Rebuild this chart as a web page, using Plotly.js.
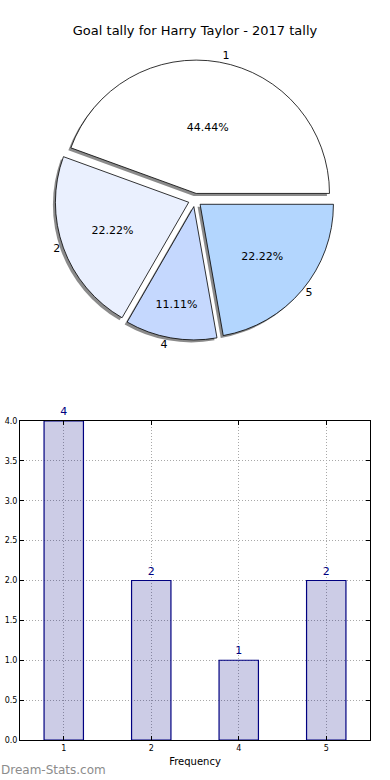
<!DOCTYPE html>
<html>
<head>
<meta charset="utf-8">
<script src="https://cdn.plot.ly/plotly-3.0.1.min.js"></script>
<style>html,body{margin:0;padding:0;background:#fff}#chart{width:390px;height:780px}</style>
</head>
<body>
<div id="chart"></div>
<script>
const categories = ["1", "2", "4", "5"];
const counts = [4, 2, 1, 2];
const sliceColors = ["#ffffff", "#eaf0fe", "#c5d8fe", "#b3d6fe"];
const yTicks = [0, 0.5, 1, 1.5, 2, 2.5, 3, 3.5, 4];
const titleText = "Goal tally for Harry Taylor - 2017 tally";

const W = 390, H = 780;
const mL = 20, mR = 20, mT = 0, mB = 40;
const plotW = W - mL - mR, plotH = H - mT - mB;
const pxX = p => (p - mL) / plotW;
const pxY = p => (plotH + mT - p) / plotH;

const pieTop = 60, pieBottom = 340;
const pieDomain = {x: [pxX(40), pxX(350)], y: [pxY(pieBottom), pxY(pieTop)]};
const sh = 2.5;
const shadowDomain = {x: [pxX(40 - sh), pxX(350 - sh)], y: [pxY(pieBottom + sh), pxY(pieTop + sh)]};
const pulls = [0.05, 0.05, 0.05, 0.05];
const font = "DejaVu Sans, sans-serif";
const startRotation = -70;

const shadow = {
  type: "pie", labels: categories, values: counts, sort: false,
  direction: "counterclockwise", rotation: startRotation, pull: pulls,
  domain: shadowDomain, textinfo: "none", hoverinfo: "skip",
  marker: {colors: categories.map(() => "rgba(90,90,90,0.7)"), line: {width: 0}},
  showlegend: false
};
const pie = {
  type: "pie", labels: categories, values: counts, sort: false,
  direction: "counterclockwise", rotation: startRotation, pull: pulls,
  domain: pieDomain, textinfo: "percent", texttemplate: "%{percent:.2%}",
  textposition: "inside", insidetextorientation: "horizontal",
  textfont: {family: font, size: 11, color: "#000"},
  marker: {colors: sliceColors, line: {color: "#000", width: 0.8}},
  showlegend: false
};
const pieLabels = {
  type: "pie", labels: categories, values: counts, sort: false,
  direction: "counterclockwise", rotation: startRotation, pull: pulls,
  domain: pieDomain, textinfo: "label", textposition: "outside",
  textfont: {family: font, size: 11, color: "#000"},
  marker: {colors: categories.map(() => "rgba(0,0,0,0)"), line: {width: 0}},
  hoverinfo: "skip", showlegend: false
};
const bars = {
  type: "bar", x: categories, y: counts, width: 0.45,
  marker: {color: "rgba(0,0,128,0.2)", line: {color: "#000080", width: 1.2}},
  text: counts.map(String), textposition: "outside", cliponaxis: false,
  textfont: {family: font, size: 11, color: "#000080"},
  xaxis: "x", yaxis: "y", showlegend: false
};

const layout = {
  width: W, height: H,
  margin: {l: mL, r: mR, t: mT, b: mB},
  paper_bgcolor: "#fff", plot_bgcolor: "#fff",
  font: {family: font, color: "#000"},
  title: {text: titleText, font: {family: font, size: 13, color: "#000"},
          x: 0.5, xref: "container", y: 1 - 30 / H, yref: "container", yanchor: "middle"},
  xaxis: {
    type: "category", range: [-0.5, 3.5], domain: [0, 1], anchor: "y",
    showgrid: true, gridcolor: "#a8a8a8", griddash: "1px,2px", gridwidth: 1,
    showline: true, linecolor: "#000", linewidth: 1, mirror: "ticks",
    ticks: "inside", ticklen: 4, tickcolor: "#000",
    tickfont: {family: font, size: 8, color: "#000"},
    title: {text: "Frequency", font: {family: font, size: 10, color: "#000"}, standoff: 6},
    zeroline: false, layer: "above traces", fixedrange: true
  },
  yaxis: {
    range: [0, 4], domain: [0, pxY(421)], anchor: "x",
    tickvals: yTicks, tickformat: ".1f",
    showgrid: true, gridcolor: "#a8a8a8", griddash: "1px,2px", gridwidth: 1,
    showline: true, linecolor: "#000", linewidth: 1, mirror: "ticks",
    ticks: "inside", ticklen: 4, tickcolor: "#000",
    tickfont: {family: font, size: 8, color: "#000"},
    zeroline: false, layer: "above traces", fixedrange: true
  },
  annotations: [{
    text: "Dream-Stats.com", xref: "paper", yref: "paper",
    x: pxX(-1), y: pxY(770), xanchor: "left", yanchor: "middle", showarrow: false,
    font: {family: font, size: 12, color: "#8c8c8c"}
  }]
};

Plotly.newPlot("chart", [shadow, pie, pieLabels, bars], layout, {displayModeBar: false, staticPlot: true});
</script>
</body>
</html>
